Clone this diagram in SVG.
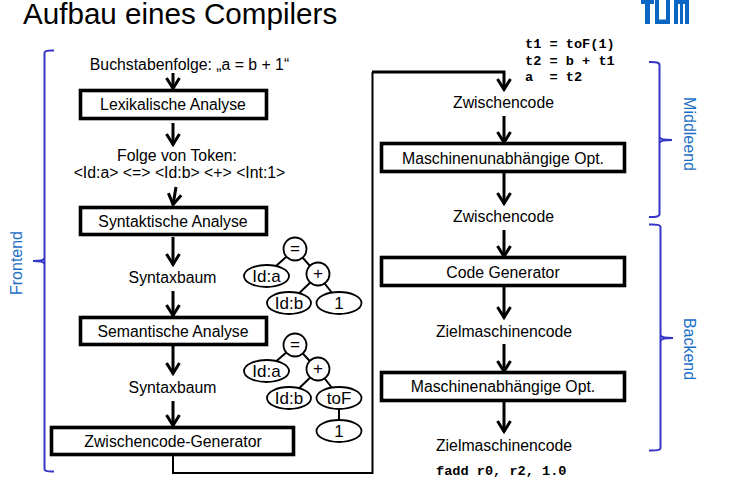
<svg xmlns="http://www.w3.org/2000/svg" width="744" height="488" viewBox="0 0 744 488">
<style>
text{font-family:"Liberation Sans",Arial,sans-serif;fill:#000;font-size:15.8px;text-anchor:middle}
.title{font-size:29.6px;text-anchor:start}
.mono{font-family:"Liberation Mono","Courier New",monospace;font-weight:bold;font-size:13.6px;text-anchor:start;white-space:pre}
.side{fill:#1a6fc4;font-size:16px}
.box{fill:#fff;stroke:#000;stroke-width:3.6}
.c{fill:none;stroke:#000;stroke-width:3}
.thin{fill:none;stroke:#000;stroke-width:2}
.br{fill:none;stroke:#3535c8;stroke-width:2}
.tn{fill:#fff;stroke:#000;stroke-width:1.8}
.e{stroke:#000;stroke-width:2;fill:none}
.tt{font-size:17px}
</style>
<defs>
<marker id="ah" markerUnits="userSpaceOnUse" markerWidth="16" markerHeight="16" refX="13" refY="8" orient="auto">
<path d="M2 1.500 L12.500 8 L2 14.500" fill="none" stroke="#000" stroke-width="3"/>
</marker>
</defs>
<rect width="744" height="488" fill="#fff"/>
<text class="title" x="23" y="24">Aufbau eines Compilers</text>
<path id="logo" d="M641 0H654V4H650V24H645V4H641ZM655 0H659V19.500H666V0H670V24H655ZM674 0H689V24H685V4H683V24H680V4H678V24H674Z" fill="#0a66c2"/>
<g id="connectors">
<path class="c" marker-end="url(#ah)" d="M173 73V89"/>
<path class="c" marker-end="url(#ah)" d="M173 123V145"/>
<path class="c" marker-end="url(#ah)" d="M176 187L173 205"/>
<path class="c" marker-end="url(#ah)" d="M173 237V265"/>
<path class="c" marker-end="url(#ah)" d="M173 291V316"/>
<path class="c" marker-end="url(#ah)" d="M173 346V374"/>
<path class="c" marker-end="url(#ah)" d="M173 401V426"/>
<path class="thin" d="M173 456V473H372.500V72"/>
<path class="c" marker-end="url(#ah)" d="M372 72H504V90"/>
<path class="c" marker-end="url(#ah)" d="M504 116V143"/>
<path class="c" marker-end="url(#ah)" d="M504 173V204"/>
<path class="c" marker-end="url(#ah)" d="M504 230V257"/>
<path class="c" marker-end="url(#ah)" d="M504 287V318"/>
<path class="c" marker-end="url(#ah)" d="M504 344V372"/>
<path class="c" marker-end="url(#ah)" d="M504 402V432"/>
</g>
<g id="frontend-bracket"><path class="br" d="M54 50.500Q44.500 50 44.500 53V469Q44.500 472 54 471.500M33 261Q44 261 44.500 258M33 261Q44 261 44.500 264"/>
<text class="side" transform="translate(22 263) rotate(-90)">Frontend</text></g>
<g id="middleend-bracket"><path class="br" d="M649 62Q659.500 61.500 659.500 65V214Q659.500 217.500 649 217M672 140Q660 140 659.500 137M672 140Q660 140 659.500 143"/>
<text class="side" transform="translate(684 134) rotate(90)">Middleend</text></g>
<g id="backend-bracket"><path class="br" d="M649 224.500Q660.500 224 660.500 227V448Q660.500 451 649 450.500M673 338Q661 338 660.500 335M673 338Q661 338 660.500 341"/>
<text class="side" transform="translate(684 349) rotate(90)">Backend</text></g>
<g id="n-input"><text x="189.500" y="70">Buchstabenfolge: „a = b + 1“</text></g>
<g id="n-lex"><rect class="box" x="80.500" y="90.500" width="186" height="28"/><text x="173" y="110">Lexikalische Analyse</text></g>
<g id="n-token"><text x="177" y="160.500">Folge von Token:</text><text x="179.500" y="178">&lt;Id:a&gt; &lt;=&gt; &lt;Id:b&gt; &lt;+&gt; &lt;Int:1&gt;</text></g>
<g id="n-syn"><rect class="box" x="80.500" y="207.500" width="186" height="27"/><text x="173" y="227">Syntaktische Analyse</text></g>
<g id="n-st1"><text x="172.500" y="283">Syntaxbaum</text></g>
<g id="n-sem"><rect class="box" x="80.500" y="317.500" width="186" height="27"/><text x="173" y="337">Semantische Analyse</text></g>
<g id="n-st2"><text x="172.500" y="393">Syntaxbaum</text></g>
<g id="n-gen"><rect class="box" x="51.500" y="427.500" width="242" height="27"/><text x="173" y="447">Zwischencode-Generator</text></g>
<g id="tree1">
<path class="e" d="M295 249L266 275M295 249L318 275M318 275L289 303M318 275L340 303"/>
<circle class="tn" cx="295" cy="249" r="11.500"/><text class="tt" x="295" y="254">=</text>
<ellipse class="tn" cx="266.500" cy="276" rx="22.500" ry="11"/><text class="tt" x="266.500" y="282">Id:a</text>
<circle class="tn" cx="318" cy="274" r="11.500"/><text class="tt" x="318" y="279">+</text>
<ellipse class="tn" cx="289" cy="303" rx="22" ry="11"/><text class="tt" x="289" y="309">Id:b</text>
<ellipse class="tn" cx="339" cy="303" rx="22.500" ry="11"/><text class="tt" x="339" y="309">1</text>
</g>
<g id="tree2">
<path class="e" d="M295 345L266 370M295 345L318 370M318 370L289 398M318 370L340 398M339 398V428"/>
<circle class="tn" cx="295" cy="345" r="11.500"/><text class="tt" x="295" y="350">=</text>
<ellipse class="tn" cx="266.500" cy="371" rx="22.500" ry="11"/><text class="tt" x="266.500" y="377">Id:a</text>
<circle class="tn" cx="318" cy="369" r="11.500"/><text class="tt" x="318" y="374">+</text>
<ellipse class="tn" cx="289" cy="398" rx="22" ry="11"/><text class="tt" x="289" y="404">Id:b</text>
<ellipse class="tn" cx="339" cy="398" rx="22.500" ry="11"/><text class="tt" x="339" y="404">toF</text>
<ellipse class="tn" cx="339" cy="431" rx="22.500" ry="11"/><text class="tt" x="339" y="437">1</text>
</g>
<g id="n-tac"><text class="mono" x="525" y="48">t1 = toF(1)</text><text class="mono" x="525" y="65">t2 = b + t1</text><text class="mono" x="525" y="81">a  = t2</text></g>
<g id="n-zc1"><text x="503.500" y="108">Zwischencode</text></g>
<g id="n-mu"><rect class="box" x="381.500" y="143.500" width="243" height="28"/><text x="503" y="164">Maschinenunabhängige Opt.</text></g>
<g id="n-zc2"><text x="503.500" y="222">Zwischencode</text></g>
<g id="n-cg"><rect class="box" x="381.500" y="257.500" width="243" height="28"/><text x="503" y="278">Code Generator</text></g>
<g id="n-zm1"><text x="504" y="337">Zielmaschinencode</text></g>
<g id="n-ma"><rect class="box" x="381.500" y="372.500" width="243" height="28"/><text x="503" y="392">Maschinenabhängige Opt.</text></g>
<g id="n-zm2"><text x="504" y="451">Zielmaschinencode</text></g>
<g id="n-asm"><text class="mono" x="436" y="475">fadd r0, r2, 1.0</text></g>
</svg>
